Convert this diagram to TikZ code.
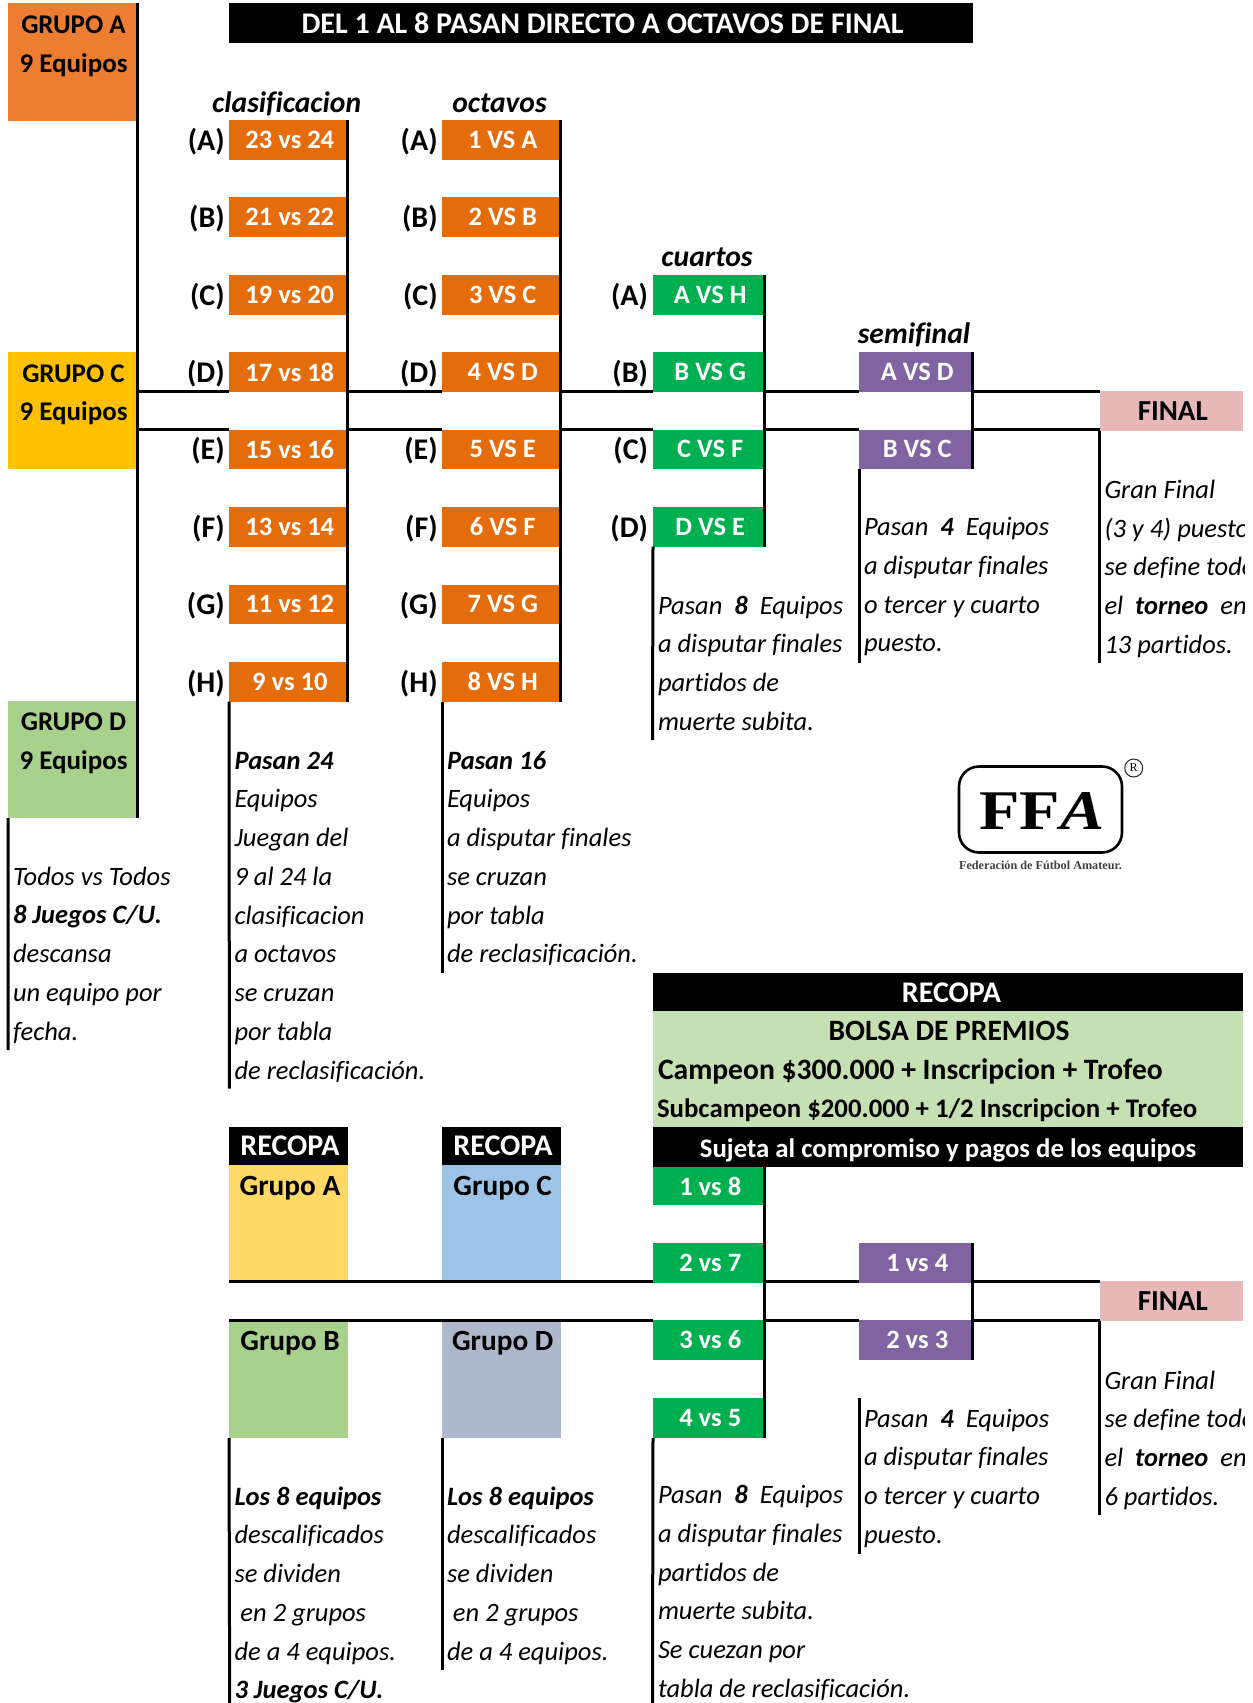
\documentclass[tikz,border=0pt]{standalone}
\usepackage{fontspec}
\setmainfont{Carlito}[Ligatures=NoCommon]
\newfontfamily\logofont[FakeStretch=1.18]{Liberation Serif}
\newfontfamily\logosmall{Liberation Serif}
\definecolor{cA}{HTML}{ED7D31}\definecolor{cC}{HTML}{FFC000}\definecolor{cD}{HTML}{A9D18E}
\definecolor{cOr}{HTML}{E46C0A}\definecolor{cGr}{HTML}{00B050}\definecolor{cPu}{HTML}{8064A2}
\definecolor{cFi}{HTML}{E6B8B7}\definecolor{cBo}{HTML}{C5E0B3}\definecolor{cYe}{HTML}{FFD966}
\definecolor{cBl}{HTML}{9DC3E6}\definecolor{cGy}{HTML}{ADB9CA}
\newcommand{\fs}[1]{\fontsize{#1}{#1}\selectfont}
\tikzset{
 x=1pt,y=-1pt,
 cell/.style={inner sep=0pt,outer sep=0pt,draw=none},
 ln/.style={line width=3pt,black},
 wt/.style={text=white,font=\fs{26.5}\bfseries},
 wtb/.style={text=white,font=\fs{30}\bfseries},
 bk/.style={text=black,font=\fs{29}\bfseries},
 lab/.style={cell,anchor=base east,font=\fs{30}\bfseries},
 head/.style={cell,anchor=base,font=\fs{29.6}\bfseries\itshape},
 note/.style={cell,anchor=base west,font=\fs{26.5}\itshape},
 free/.style={cell,anchor=base},
}
% \bx{name}{x1}{y1}{x2}{y2}{fill}{text style}{text}
\newcommand{\bx}[8]{%
 \pgfmathsetmacro{\bw}{#4-#2}\pgfmathsetmacro{\bh}{#5-#3}%
 \pgfmathsetmacro{\bcx}{(#2+#4)/2}\pgfmathsetmacro{\bcy}{(#3+#5)/2}%
 \node[cell,fill=#6,minimum width=\bw pt,minimum height=\bh pt,#7] (#1) at (\bcx,\bcy) {\raisebox{-2pt}{\hspace{3pt}#8}};}
% \notes{name}{x}{first baseline}{list}
\newcommand{\notes}[4]{%
 \foreach \t [count=\i from 0] in {#4}{%
  \pgfmathsetmacro{\ty}{#3+38.75*\i}%
  \node[note] (#1\i) at (#2,\ty) {\t};}}
\begin{document}
\begin{tikzpicture}
\useasboundingbox (0,0) rectangle (1253,1703);
\clip (0,0) rectangle (1244.5,1703);
\coordinate (L1) at (0,391);
\coordinate (L2) at (0,429.7);
\coordinate (M1) at (0,1281.3);
\coordinate (M2) at (0,1320.5);

% groups
\bx{gA}{8}{3.3}{137.3}{120.7}{cA}{}{}
\bx{gC}{8}{352.3}{137.3}{469}{cC}{}{}
\bx{gD}{8}{701}{137.3}{818}{cD}{}{}
\node[free,font=\fs{27}\bfseries] (gAt1) at (73.5,33) {GRUPO A};
\node[free,font=\fs{27}\bfseries] (gAt2) at (73.5,72) {9 Equipos};
\node[free,font=\fs{27}\bfseries] (gCt1) at (73.5,382) {GRUPO C};
\node[free,font=\fs{27}\bfseries] (gCt2) at (73.5,420) {9 Equipos};
\node[free,font=\fs{27}\bfseries] (gDt1) at (73.5,730) {GRUPO D};
\node[free,font=\fs{27}\bfseries] (gDt2) at (73.5,769) {9 Equipos};

% banner
\bx{ban}{229}{3.3}{973}{42.5}{black}{text=white,font=\fs{30}\bfseries}{DEL 1 AL 8 PASAN DIRECTO A OCTAVOS DE FINAL}

% headings
\node[head] (hq) at (286.6,112) {clasificacion};
\node[head] (ho) at (499.5,112) {octavos};
\node[head] (hc) at (707,266) {cuartos};
\node[head] (hs) at (914,343) {semifinal};

% clasificacion
\bx{a1}{229}{119.7}{347.6}{159.7}{cOr}{wt}{23 vs 24}
\bx{a2}{229}{197.3}{347.6}{237}{cOr}{wt}{21 vs 22}
\bx{a3}{229}{275}{347.6}{314.7}{cOr}{wt}{19 vs 20}
\bx{a4}{229}{352.3}{347.6}{392}{cOr}{wt}{17 vs 18}
\bx{a5}{229}{429.5}{347.6}{469}{cOr}{wt}{15 vs 16}
\bx{a6}{229}{507}{347.6}{546.7}{cOr}{wt}{13 vs 14}
\bx{a7}{229}{584.5}{347.6}{624}{cOr}{wt}{11 vs 12}
\bx{a8}{229}{662}{347.6}{701.7}{cOr}{wt}{9 vs 10}
% octavos
\bx{b1}{442}{119.7}{560.5}{159.7}{cOr}{wt}{1 VS A}
\bx{b2}{442}{197.3}{560.5}{237}{cOr}{wt}{2 VS B}
\bx{b3}{442}{275}{560.5}{314.7}{cOr}{wt}{3 VS C}
\bx{b4}{442}{352.3}{560.5}{392}{cOr}{wt}{4 VS D}
\bx{b5}{442}{429.5}{560.5}{469}{cOr}{wt}{5 VS E}
\bx{b6}{442}{507}{560.5}{546.7}{cOr}{wt}{6 VS F}
\bx{b7}{442}{584.5}{560.5}{624}{cOr}{wt}{7 VS G}
\bx{b8}{442}{662}{560.5}{701.7}{cOr}{wt}{8 VS H}
% letter labels
\foreach \l/\yy [count=\k] in {A/150,B/227.5,C/305,D/382.5,E/459.5,F/537,G/614.5,H/692}{
  \node[lab] (la\k) at (224.7,\yy) {(\l)};
  \node[lab] (lb\k) at (437.6,\yy) {(\l)};
}
\foreach \l/\yy [count=\k] in {A/305,B/382.5,C/459.5,D/537}{
  \node[lab] (lc\k) at (648,\yy) {(\l)};
}
% cuartos
\bx{c1}{653}{275}{764.5}{314.7}{cGr}{wt}{A VS H}
\bx{c2}{653}{352.3}{764.5}{392}{cGr}{wt}{B VS G}
\bx{c3}{653}{429.5}{764.5}{469}{cGr}{wt}{C VS F}
\bx{c4}{653}{507}{764.5}{546.7}{cGr}{wt}{D VS E}
% semi
\bx{s1}{859}{352.3}{972.5}{392}{cPu}{wt}{A VS D}
\bx{s2}{859}{429.5}{972.5}{469}{cPu}{wt}{B VS C}
% final
\bx{f1}{1099.6}{391}{1243}{431}{cFi}{bk}{FINAL}

% notes upper
\coordinate (eG) at (8.2,1050);
\coordinate (eA) at (229.4,1088.5);
\coordinate (eB) at (442,972.7);
\coordinate (eC) at (652.5,740);
\coordinate (eS) at (859,663);
\coordinate (eF) at (1099.6,663);
\notes{tg}{13}{885}{Todos vs Todos,{\bfseries 8 Juegos C/U.},descansa,un equipo por,fecha.}
\notes{ta}{234.5}{769.2}{{\bfseries Pasan 24},Equipos,Juegan del,9 al 24 la,clasificacion,a octavos,se cruzan,por tabla,de reclasificación.}
\notes{tb}{447}{769.2}{{\bfseries Pasan 16},Equipos,a disputar finales,se cruzan,por tabla,de reclasificación.}
\notes{tc}{658}{614}{Pasan\ \ {\bfseries 8}\ \ Equipos,a disputar finales,partidos de,muerte subita.}
\notes{ts}{864}{535.7}{Pasan\ \ {\bfseries 4}\ \ Equipos,a disputar finales,o tercer y cuarto,puesto.}
\notes{tf}{1104.5}{498.3}{Gran Final,(3 y 4) puesto,se define todo,el\ \ {\bfseries torneo}\ \ en,13 partidos.}

% recopa prize block
\bx{r0}{653}{972.5}{1243}{1011}{black}{}{}
\bx{r1}{653}{1011}{1243}{1127}{cBo}{}{}
\bx{r2}{653}{1127}{1243}{1167}{black}{}{}
\node[free,wtb] (r0t) at (951.5,1002) {RECOPA};
\node[free,font=\fs{29.5}\bfseries] (r1a) at (949,1040) {BOLSA DE PREMIOS};
\node[cell,anchor=base west,font=\fs{29.6}\bfseries] (r1b) at (658,1079) {Campeon \$300.000 + Inscripcion + Trofeo};
\node[cell,anchor=base west,font=\fs{26.8}\bfseries] (r1c) at (657,1117) {Subcampeon \$200.000 + 1/2 Inscripcion + Trofeo};
\node[free,text=white,font=\fs{26.8}\bfseries] (r2t) at (948,1157) {Sujeta al compromiso y pagos de los equipos};

% recopa groups
\bx{p1}{229}{1127}{348}{1165}{black}{wtb}{RECOPA}
\bx{p2}{442}{1127}{561}{1165}{black}{wtb}{RECOPA}
\bx{g1}{229}{1165}{348}{1281}{cYe}{}{}
\bx{g2}{442}{1165}{561}{1281}{cBl}{}{}
\bx{g3}{229}{1320.5}{348}{1438}{cD}{}{}
\bx{g4}{442}{1320.5}{561}{1438}{cGy}{}{}
\node[free,font=\fs{29.3}\bfseries] (g1t) at (290,1195) {Grupo A};
\node[free,font=\fs{29.3}\bfseries] (g2t) at (502.7,1195) {Grupo C};
\node[free,font=\fs{29.3}\bfseries] (g3t) at (290,1350) {Grupo B};
\node[free,font=\fs{29.3}\bfseries] (g4t) at (502.7,1350) {Grupo D};

% recopa bracket
\bx{d1}{653}{1167}{764.5}{1205}{cGr}{wt}{1 vs 8}
\bx{d2}{653}{1243}{764.5}{1283}{cGr}{wt}{2 vs 7}
\bx{d3}{653}{1320}{764.5}{1360}{cGr}{wt}{3 vs 6}
\bx{d4}{653}{1398}{764.5}{1438}{cGr}{wt}{4 vs 5}
\bx{e1}{859}{1243}{972.5}{1283}{cPu}{wt}{1 vs 4}
\bx{e2}{859}{1320}{972.5}{1360}{cPu}{wt}{2 vs 3}
\bx{f2}{1099.6}{1281}{1243}{1320.6}{cFi}{bk}{FINAL}

% notes lower
\coordinate (eG1) at (229.7,1703);
\coordinate (eG2) at (442,1670);
\coordinate (eC2) at (652.5,1703);
\coordinate (eS2t) at (859,1398);
\coordinate (eS2) at (859,1554);
\coordinate (eF2) at (1099.6,1514.5);
\notes{ua}{234.5}{1505}{{\bfseries Los 8 equipos},descalificados,se dividen,\ en 2 grupos,de a 4 equipos.,{\bfseries 3 Juegos C/U.}}
\notes{ub}{447}{1505}{{\bfseries Los 8 equipos},descalificados,se dividen,\ en 2 grupos,de a 4 equipos.}
\notes{uc}{658}{1503.7}{Pasan\ \ {\bfseries 8}\ \ Equipos,a disputar finales,partidos de,muerte subita.,Se cuezan por,tabla de reclasificación.}
\notes{us}{864}{1427}{Pasan\ \ {\bfseries 4}\ \ Equipos,a disputar finales,o tercer y cuarto,puesto.}
\notes{uf}{1104.5}{1389}{Gran Final,se define todo,el\ \ {\bfseries torneo}\ \ en,6 partidos.}

% logo
\node[cell,draw=black,line width=2.6pt,rounded corners=20pt,minimum width=163pt,minimum height=86pt] (logo) at (1040.5,809.5) {};
\node[free,font=\logofont\fs{56}\bfseries] (logot) at (1042,829) {FF\textit{A}};
\node[free,font=\logosmall\fs{12.2}\bfseries,text=black!75] (logos) at (1040.5,869.5) {Federación de Fútbol Amateur.};
\node[cell,circle,draw=black!85,line width=1pt,minimum size=18pt,font=\logosmall\fs{12}] (logor) at (1133.7,768) {R};

% connectors: vertical bars
\draw[ln] (gA.north east) -- (gD.south east);
\draw[ln] (a1.north east) -- (a8.south east);
\draw[ln] (b1.north east) -- (b8.south east);
\draw[ln] (c1.north east) -- (c4.south east);
\draw[ln] (s1.north east) -- (s2.south east);
\draw[ln] (d1.north east) -- (d4.south east);
\draw[ln] (e1.north east) -- (e2.south east);
% connectors: horizontal
\foreach \lv in {L1,L2}{
  \draw[ln] (gC.east |- \lv) -- (a4.west |- \lv);
  \draw[ln] (a4.east |- \lv) -- (b4.west |- \lv);
  \draw[ln] (b4.east |- \lv) -- (c2.west |- \lv);
  \draw[ln] (c2.east |- \lv) -- (s1.west |- \lv);
  \draw[ln] (s1.east |- \lv) -- (f1.west |- \lv);
}
\foreach \lv in {M1,M2}{
  \draw[ln] (g1.west |- \lv) -- (d2.west |- \lv);
  \draw[ln] (d2.east |- \lv) -- (e1.west |- \lv);
  \draw[ln] (e1.east |- \lv) -- (f2.west |- \lv);
}
% connectors: note rules
\draw[ln] (gD.south west) -- (eG);
\draw[ln] (a8.south west) -- (eA);
\draw[ln] (b8.south west) -- (eB);
\draw[ln] (c4.south west) -- (eC);
\draw[ln] (s2.south west) -- (eS);
\draw[ln] (f1.south west) -- (eF);
\draw[ln] (g3.south west) -- (eG1);
\draw[ln] (g4.south west) -- (eG2);
\draw[ln] (d4.south west) -- (eC2);
\draw[ln] (eS2t) -- (eS2);
\draw[ln] (f2.south west) -- (eF2);
\end{tikzpicture}
\end{document}
